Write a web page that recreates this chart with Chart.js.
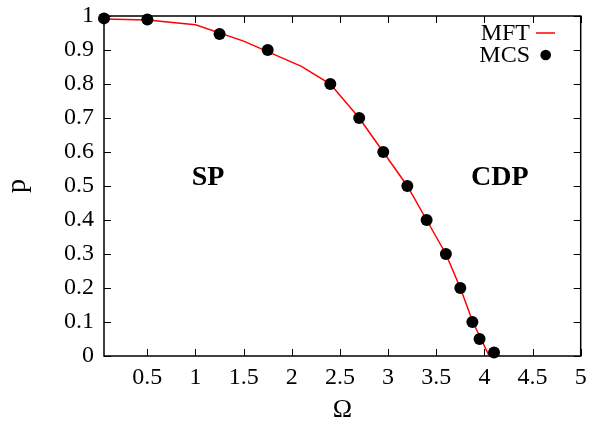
<!DOCTYPE html>
<html><head><meta charset="utf-8">
<script src="https://cdn.jsdelivr.net/npm/chart.js@4/dist/chart.umd.min.js"></script>
<style>html,body{margin:0;padding:0;background:#fff}</style>
</head><body>
<canvas id="c" width="592" height="422"></canvas>
<script>
// ---- data ----
const omegaMFT = [0.05, 0.5, 1.0, 1.5, 2.1, 2.4, 2.7, 2.95, 3.2, 3.4, 3.6, 3.75, 3.88, 4.05];
const pMFT     = [0.991, 0.988, 0.974, 0.926, 0.852, 0.80, 0.70, 0.60, 0.50, 0.40, 0.30, 0.20, 0.10, 0.0];
const omegaMCS = [0.05, 0.5, 1.25, 1.75, 2.4, 2.7, 2.95, 3.2, 3.4, 3.6, 3.75, 3.875, 3.95, 4.1];
const pMCS     = [0.993, 0.99, 0.947, 0.90, 0.80, 0.70, 0.60, 0.50, 0.40, 0.30, 0.20, 0.10, 0.05, 0.01];
const xTicks = [0.5, 1, 1.5, 2, 2.5, 3, 3.5, 4, 4.5, 5];
const xTickLabels = ['0.5', '1', '1.5', '2', '2.5', '3', '3.5', '4', '4.5', '5'];
const yTicks = [0, 0.1, 0.2, 0.3, 0.4, 0.5, 0.6, 0.7, 0.8, 0.9, 1];
const yTickLabels = ['0', '0.1', '0.2', '0.3', '0.4', '0.5', '0.6', '0.7', '0.8', '0.9', '1'];
const seriesNames = ['MFT', 'MCS'];
const regionNames = ['SP', 'CDP'];
const regionOmega = [1.13, 4.16];
const regionP = [0.525, 0.525];
const xTitle = 'Ω';
const yTitle = 'p';

const SERIF = "'Liberation Serif', 'Times New Roman', serif";

const framePlugin = {
  id: 'frame',
  beforeDatasetsDraw(chart) {
    const { ctx, chartArea: a, scales: { x, y } } = chart;
    ctx.save();
    ctx.strokeStyle = '#000';
    ctx.lineWidth = 1.5;
    ctx.strokeRect(a.left, a.top, a.right - a.left, a.bottom - a.top);
    ctx.lineWidth = 1;
    ctx.beginPath();
    x.ticks.forEach(t => {
      const px = Math.round(x.getPixelForValue(t.value)) + 0.5;
      ctx.moveTo(px, a.bottom); ctx.lineTo(px, a.bottom - 7);
      ctx.moveTo(px, a.top); ctx.lineTo(px, a.top + 7);
    });
    y.ticks.forEach(t => {
      const py = Math.round(y.getPixelForValue(t.value)) + 0.5;
      ctx.moveTo(a.left, py); ctx.lineTo(a.left + 7, py);
      ctx.moveTo(a.right, py); ctx.lineTo(a.right - 7, py);
    });
    ctx.stroke();
    ctx.restore();
  },
  afterDraw(chart) {
    const { ctx, scales: { x, y } } = chart;
    ctx.save();
    // region labels
    ctx.fillStyle = '#000';
    ctx.font = 'bold 28px ' + SERIF;
    ctx.textAlign = 'center';
    ctx.textBaseline = 'middle';
    regionNames.forEach((n, i) => {
      ctx.fillText(n, x.getPixelForValue(regionOmega[i]), y.getPixelForValue(regionP[i]));
    });
    // legend
    const ds = chart.data.datasets;
    ctx.font = '24px ' + SERIF;
    ctx.textAlign = 'right';
    ctx.textBaseline = 'middle';
    const tx = 530, rows = [33, 55];
    ds.forEach((d, i) => {
      ctx.fillStyle = '#000';
      ctx.fillText(d.label, tx, rows[i] + 1);
      if (i === 0) {
        ctx.strokeStyle = d.borderColor; ctx.lineWidth = 1.5;
        ctx.beginPath(); ctx.moveTo(536, rows[i]); ctx.lineTo(555, rows[i]); ctx.stroke();
      } else {
        ctx.fillStyle = d.backgroundColor;
        ctx.beginPath(); ctx.arc(545.7, rows[i], 5.3, 0, Math.PI * 2); ctx.fill();
      }
    });
    ctx.restore();
  }
};

new Chart(document.getElementById('c'), {
  type: 'scatter',
  data: {
    datasets: [
      {
        label: seriesNames[0],
        data: omegaMFT.map((v, i) => ({ x: v, y: pMFT[i] })),
        showLine: true,
        borderColor: '#ff0000',
        backgroundColor: '#ff0000',
        borderWidth: 1.5,
        pointRadius: 0,
        tension: 0,
        order: 2
      },
      {
        label: seriesNames[1],
        data: omegaMCS.map((v, i) => ({ x: v, y: pMCS[i] })),
        showLine: false,
        backgroundColor: '#000',
        borderColor: '#000',
        borderWidth: 0,
        pointRadius: 6,
        pointHoverRadius: 6,
        clip: false,
        order: 1
      }
    ]
  },
  options: {
    responsive: false,
    animation: false,
    devicePixelRatio: 1,
    layout: { padding: { left: 0, right: 11.3, top: 16, bottom: 0 } },
    plugins: { legend: { display: false }, tooltip: { enabled: false } },
    scales: {
      x: {
        type: 'linear',
        min: 0.05, max: 5,
        grid: { display: false, drawTicks: false },
        border: { display: false },
        afterBuildTicks: s => { s.ticks = xTicks.map(v => ({ value: v })); },
        afterFit: s => { s.height = 66; s.paddingLeft = 0; s.paddingRight = 0; },
        ticks: {
          autoSkip: false, maxRotation: 0, padding: 7,
          color: '#000',
          font: { family: SERIF, size: 24 },
          callback: (v, i) => xTickLabels[i]
        },
        title: {
          display: true, text: xTitle, color: '#000',
          font: { family: SERIF, size: 26, lineHeight: 1 },
          padding: { top: 0, bottom: -1 }
        }
      },
      y: {
        type: 'linear',
        min: 0, max: 1,
        grid: { display: false, drawTicks: false },
        border: { display: false },
        afterBuildTicks: s => { s.ticks = yTicks.map(v => ({ value: v })); },
        afterFit: s => { s.width = 104; s.paddingTop = 0; s.paddingBottom = 0; },
        ticks: {
          autoSkip: false, padding: 10,
          color: '#000',
          font: { family: SERIF, size: 24 },
          callback: (v, i) => yTickLabels[i]
        },
        title: {
          display: true, text: yTitle, color: '#000',
          font: { family: SERIF, size: 28, lineHeight: 1 },
          padding: { top: 4, bottom: 0 }
        }
      }
    }
  },
  plugins: [framePlugin]
});
</script>
</body></html>
